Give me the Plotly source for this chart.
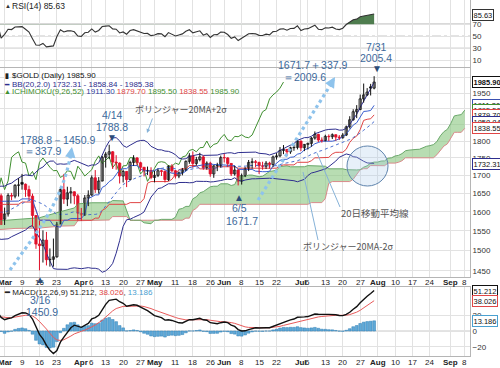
import numpy as np
import pandas as pd
import plotly.graph_objects as go

# ---------------- data (gold, daily OHLC, Jan 2 - Jul 31 2020) ----------------
holidays = ["2020-01-20", "2020-02-17", "2020-04-10", "2020-05-25", "2020-07-03", "2020-09-07"]

opens = [
    1523, 1529, 1553, 1568, 1574, 1560, 1554, 1562, 1549, 1546, 1557, 1553, 1561, 1560, 1558, 1566, 1572, 1582, 1569, 1576, 1589,  # Jan
    1587, 1582, 1557, 1557, 1567, 1573, 1579, 1570, 1571, 1578, 1586, 1604, 1612, 1623, 1649, 1676, 1650, 1643, 1643,  # Feb
    1580, 1594, 1644, 1642, 1672, 1680, 1675, 1660, 1642, 1590, 1516, 1512, 1526, 1477, 1478, 1484, 1567, 1660, 1634, 1651, 1654, 1643,  # Mar
    1596, 1591, 1637, 1645, 1693, 1660, 1684, 1752, 1761, 1768, 1738, 1735, 1698, 1711, 1688, 1737, 1750, 1736, 1723, 1713, 1714,  # Apr
    1694, 1700, 1713, 1711, 1688, 1726, 1713, 1698, 1707, 1716, 1740, 1756, 1734, 1745, 1753, 1722, 1735, 1704, 1727, 1728,  # May
    1751, 1750, 1734, 1704, 1715, 1683, 1699, 1720, 1737, 1739, 1737, 1727, 1726, 1735, 1731, 1753, 1756, 1772, 1775, 1768, 1780, 1781,  # Jun
    1800, 1780, 1790, 1793, 1809, 1820, 1803, 1801, 1814, 1813, 1819, 1812, 1810, 1818, 1843, 1865, 1890, 1897, 1931, 1944, 1970, 1966,  # Jul
]
highs = [
    1532, 1556, 1590, 1578, 1611, 1562, 1563, 1563, 1550, 1558, 1560, 1562, 1566, 1563, 1569, 1577, 1587, 1583, 1580, 1590, 1593,
    1588, 1583, 1565, 1570, 1577, 1582, 1580, 1575, 1580, 1588, 1605, 1615, 1625, 1652, 1691, 1678, 1660, 1665, 1649,
    1611, 1650, 1651, 1675, 1692, 1704, 1677, 1671, 1649, 1591, 1576, 1551, 1547, 1505, 1530, 1573, 1667, 1704, 1668, 1667, 1655, 1648,
    1610, 1645, 1658, 1700, 1715, 1695, 1756, 1767, 1788.8, 1770, 1758, 1737, 1716, 1711, 1742, 1758, 1752, 1739, 1723, 1725, 1723,
    1713, 1719, 1716, 1714, 1729, 1732, 1715, 1711, 1721, 1743, 1764, 1769, 1753, 1765, 1757, 1740, 1739, 1729, 1736, 1757,
    1762, 1752, 1735, 1727, 1718, 1705, 1723, 1744, 1749, 1744, 1739, 1739, 1741, 1739, 1757, 1764, 1782, 1788, 1776, 1783, 1788, 1803,
    1801, 1791, 1795, 1812, 1829, 1822, 1811, 1819, 1820, 1823, 1820, 1818, 1824, 1847, 1876, 1898, 1911, 1945, 1981, 1966, 1980, 2005.4,
]
lows = [
    1519, 1528, 1552, 1561, 1555, 1543, 1546, 1543, 1536, 1542, 1547, 1549, 1550, 1552, 1551, 1562, 1570, 1565, 1566, 1572, 1574,
    1576, 1548, 1548, 1555, 1563, 1570, 1565, 1565, 1568, 1575, 1584, 1600, 1605, 1620, 1643, 1636, 1633, 1637, 1565,
    1565, 1587, 1631, 1636, 1641, 1660, 1640, 1632, 1560, 1504, 1450.9, 1470, 1463, 1460, 1460, 1482, 1567, 1621, 1615, 1622, 1620, 1577,
    1576, 1589, 1615, 1643, 1651, 1649, 1683, 1722, 1747, 1718, 1716, 1677, 1680, 1667, 1686, 1727, 1729, 1712, 1697, 1701, 1689,
    1680, 1695, 1698, 1680, 1684, 1708, 1691, 1692, 1700, 1712, 1733, 1722, 1728, 1740, 1716, 1716, 1696, 1693, 1712, 1722,
    1737, 1724, 1698, 1699, 1671.7, 1674, 1695, 1712, 1719, 1723, 1704, 1716, 1718, 1719, 1724, 1745, 1752, 1761, 1755, 1762, 1771, 1775,
    1770, 1770, 1775, 1783, 1804, 1797, 1795, 1799, 1800, 1806, 1801, 1803, 1807, 1815, 1838, 1862, 1870, 1895, 1919, 1940, 1942, 1962,
]
closes = [
    1529, 1553, 1568, 1574, 1560, 1554, 1562, 1549, 1546, 1557, 1553, 1561, 1560, 1558, 1566, 1572, 1582, 1569, 1576, 1589, 1587,
    1582, 1557, 1557, 1567, 1573, 1579, 1570, 1571, 1578, 1586, 1604, 1612, 1623, 1649, 1676, 1650, 1643, 1643, 1566,
    1594, 1644, 1642, 1672, 1672, 1675, 1660, 1642, 1590, 1516, 1512, 1526, 1477, 1478, 1484, 1567, 1660, 1634, 1651, 1654, 1643, 1596,
    1591, 1637, 1645, 1693, 1660, 1684, 1752, 1761, 1768, 1738, 1735, 1698, 1711, 1688, 1737, 1750, 1736, 1723, 1713, 1714, 1694,
    1700, 1713, 1711, 1688, 1726, 1713, 1698, 1707, 1716, 1740, 1756, 1734, 1745, 1753, 1722, 1735, 1704, 1727, 1728, 1751,
    1750, 1734, 1704, 1715, 1683, 1699, 1720, 1737, 1739, 1737, 1727, 1726, 1735, 1731, 1753, 1756, 1772, 1775, 1768, 1780, 1781, 1800,
    1780, 1790, 1793, 1809, 1820, 1803, 1801, 1814, 1813, 1819, 1812, 1810, 1818, 1843, 1865, 1890, 1897, 1931, 1944, 1953, 1966, 1985.9,
]

# cloud edges before the computed part
early_cloud_idx = [-3, 3, 10, 16, 20, 21, 25, 30, 31, 34, 35, 36]
early_span_a = [1575, 1580, 1584, 1600, 1610, 1621, 1624, 1624, 1630, 1629, 1604, 1578]
early_span_b = [1552, 1556, 1557, 1562, 1563, 1576, 1577, 1578, 1587, 1587, 1587, 1577]

tick_dates = ["2020-03-02", "2020-03-09", "2020-03-16", "2020-03-23", "2020-04-01", "2020-04-06",
              "2020-04-13", "2020-04-20", "2020-04-27", "2020-05-01", "2020-05-11", "2020-05-18",
              "2020-05-26", "2020-06-01", "2020-06-08", "2020-06-15", "2020-06-22", "2020-07-01",
              "2020-07-06", "2020-07-13", "2020-07-20", "2020-07-27", "2020-08-03", "2020-08-10",
              "2020-08-17", "2020-08-24", "2020-09-01", "2020-09-08"]
tick_text = ["<b>Mar</b>", "9", "16", "23", "<b>Apr</b>", "6", "13", "20", "27", "<b>May</b>", "11", "18",
             "26", "<b>Jun</b>", "8", "15", "22", "<b>Jul</b>", "6", "13", "20", "27", "<b>Aug</b>", "10",
             "17", "24", "<b>Sep</b>", "8"]

price_ticks = [1450, 1500, 1550, 1600, 1650, 1700, 1750, 1800, 1850, 1900, 1950, 2000]
rsi_ticks = [10, 30, 50, 70]
macd_ticks = [-20, 0, 20]

legend_last = {"close": 1985.90, "bb_lo": 1732.31, "bb_mid": 1858.84, "bb_up": 1985.38,
               "tenkan": 1911.30, "kijun": 1879.70, "span_a": 1895.50, "span_b": 1838.55,
               "rsi": 85.63, "macd": 51.212, "signal": 38.026, "hist": 13.186}

# ---------------- trading calendar ----------------
cal = [d.strftime("%Y-%m-%d") for d in pd.bdate_range("2020-01-02", "2020-09-30")
       if d.strftime("%Y-%m-%d") not in holidays]
first = cal.index("2020-03-02")
idx_of = {d: i - first for i, d in enumerate(cal)}
n = len(closes)
x = np.arange(n) - first

o = pd.Series(opens, index=x, dtype=float)
h = pd.Series(highs, index=x, dtype=float)
l = pd.Series(lows, index=x, dtype=float)
c = pd.Series(closes, index=x, dtype=float)

# indicators
ma20 = c.rolling(20).mean()
sd20 = c.rolling(20).std(ddof=0)
bb_up = ma20 + 2 * sd20
bb_lo = ma20 - 2 * sd20
tenkan = (h.rolling(9).max() + l.rolling(9).min()) / 2
kijun = (h.rolling(26, min_periods=1).max() + l.rolling(26, min_periods=1).min()) / 2
span_a_c = (tenkan + kijun) / 2
span_b_c = (h.rolling(52).max() + l.rolling(52).min()) / 2
later = [j for j in x if 37 <= j + 26]
cloud_x = list(early_cloud_idx) + [int(j + 26) for j in later]
cloud_a = list(early_span_a) + [float(span_a_c[j]) for j in later]
cloud_b = list(early_span_b) + [float(span_b_c[j]) for j in later]

d = c.diff()
ag = d.clip(lower=0).ewm(alpha=1 / 14, adjust=False).mean()
al = (-d.clip(upper=0)).ewm(alpha=1 / 14, adjust=False).mean()
rsi = 100 - 100 / (1 + ag / al)
macd = c.ewm(span=12, adjust=False).mean() - c.ewm(span=26, adjust=False).mean()
signal = macd.ewm(span=9, adjust=False).mean()
hist = macd - signal

vis = x >= -3
xv = x[vis]

# ---------------- geometry helpers ----------------
W_PLOT, H_PLOT = 470.0, 356.0
FONT = "Liberation Sans, Arial, sans-serif"
JP = "Noto Sans CJK JP, sans-serif"


def px(X):
    return X / W_PLOT


def py(Y):
    return 1 - Y / H_PLOT


XR = [-1.32, 133.5]
P_LO, P_HI = 1435, 2033

fig = go.Figure()

# ---------------- RSI panel ----------------
rv = rsi[vis]
fig.add_trace(go.Scatter(x=xv, y=[70] * len(xv), mode="lines", line=dict(width=0), xaxis="x", yaxis="y", hoverinfo="skip"))
fig.add_trace(go.Scatter(x=xv, y=np.maximum(rv.values, 70), mode="lines", line=dict(width=0), fill="tonexty",
                         fillcolor="#4f7d4f", xaxis="x", yaxis="y", hoverinfo="skip"))
fig.add_trace(go.Scatter(x=xv, y=[30] * len(xv), mode="lines", line=dict(width=0), xaxis="x", yaxis="y", hoverinfo="skip"))
fig.add_trace(go.Scatter(x=xv, y=np.minimum(rv.values, 30), mode="lines", line=dict(width=0), fill="tonexty",
                         fillcolor="#d05050", xaxis="x", yaxis="y", hoverinfo="skip"))
fig.add_trace(go.Scatter(x=xv, y=rv.values, mode="lines", line=dict(color="#333333", width=1.1), xaxis="x", yaxis="y"))

# ---------------- price panel ----------------
fig.add_trace(go.Scatter(x=cloud_x, y=cloud_b, mode="lines", line=dict(color="#d88a8a", width=1),
                         xaxis="x2", yaxis="y2"))
fig.add_trace(go.Scatter(x=cloud_x, y=cloud_a, mode="lines", line=dict(color="#6aa86a", width=1),
                         fill="tonexty", fillcolor="rgba(140,200,130,0.62)", xaxis="x2", yaxis="y2"))
fig.add_trace(go.Scatter(x=xv - 26, y=c[vis].values, mode="lines", line=dict(color="#3f8f2f", width=1), xaxis="x2", yaxis="y2"))
fig.add_trace(go.Scatter(x=xv, y=kijun[vis].values, mode="lines", line=dict(color="#e04545", width=1), xaxis="x2", yaxis="y2"))
fig.add_trace(go.Scatter(x=xv, y=tenkan[vis].values, mode="lines", line=dict(color="#3a5fd0", width=1), xaxis="x2", yaxis="y2"))
fig.add_trace(go.Scatter(x=xv, y=ma20[vis].values, mode="lines", line=dict(color="#4a6fd0", width=1, dash="dot"), xaxis="x2", yaxis="y2"))
fig.add_trace(go.Scatter(x=xv, y=bb_up[vis].values, mode="lines", line=dict(color="#2e2e8e", width=1), xaxis="x2", yaxis="y2"))
fig.add_trace(go.Scatter(x=xv, y=bb_lo[vis].values, mode="lines", line=dict(color="#2e2e8e", width=1), xaxis="x2", yaxis="y2"))

prev = c.shift(1).fillna(o)
groups = {}
for j in xv:
    col = "#111111" if c[j] >= prev[j] else "#e0102a"
    hollow = c[j] >= o[j]
    groups.setdefault((col, hollow), []).append(j)
for col in ["#111111", "#e0102a"]:
    wx, wy = [], []
    for (cc, hol), js in groups.items():
        if cc != col:
            continue
        for j in js:
            wx += [j, j, None]
            wy += [l[j], h[j], None]
    fig.add_trace(go.Scatter(x=wx, y=wy, mode="lines", line=dict(color=col, width=1), xaxis="x2", yaxis="y2", hoverinfo="skip"))
for (col, hol), js in groups.items():
    base = [min(o[j], c[j]) for j in js]
    top = [max(o[j], c[j]) for j in js]
    hgt = [max(t - b, 1.0) for b, t in zip(base, top)]
    fig.add_trace(go.Bar(x=js, y=hgt, base=base, width=0.66,
                         marker=dict(color="white" if hol else col, line=dict(color=col, width=0.8)),
                         xaxis="x2", yaxis="y2", hoverinfo="skip"))

# ---------------- MACD panel ----------------
fig.add_trace(go.Bar(x=xv, y=hist[vis].values, width=0.8, marker=dict(color="#5fa9d8", line=dict(color="#2f7fb5", width=0.5)),
                     xaxis="x3", yaxis="y3"))
fig.add_trace(go.Scatter(x=xv, y=signal[vis].values, mode="lines", line=dict(color="#e85a5a", width=1), xaxis="x3", yaxis="y3"))
fig.add_trace(go.Scatter(x=xv, y=macd[vis].values, mode="lines", line=dict(color="#111111", width=1.4), xaxis="x3", yaxis="y3"))

# ---------------- axes ----------------
tickvals = [idx_of[dd] for dd in tick_dates]
xcommon = dict(range=XR, tickvals=tickvals, ticktext=tick_text, showgrid=True, gridcolor="#e2e2e2",
               zeroline=False, showline=True, linecolor="#b5b5b5", mirror=True, ticks="", tickangle=0,
               showticklabels=False)
ycommon = dict(side="right", showline=True, linecolor="#b5b5b5", mirror=True, ticks="", zeroline=False,
               gridcolor="#e2e2e2", tickfont=dict(size=8, color="#333", family=FONT))

fig.update_layout(
    width=500, height=368, margin=dict(l=0, r=30, t=0, b=12),
    paper_bgcolor="white", plot_bgcolor="white", showlegend=False, barmode="overlay",
    xaxis=dict(**xcommon, anchor="y"),
    xaxis2=dict(**xcommon, anchor="y2"),
    xaxis3=dict(**xcommon, anchor="y3"),
    yaxis=dict(**ycommon, domain=[py(67), 1], range=[-1, 110], tickvals=rsi_ticks),
    yaxis2=dict(**ycommon, domain=[py(277), py(68)], type="log", range=[np.log10(P_LO), np.log10(P_HI)],
                tickvals=price_ticks, ticktext=[str(t) for t in price_ticks]),
    yaxis3=dict(**ycommon, domain=[0, py(287)], range=[-31.6, 55.7], tickvals=macd_ticks),
)

shapes = []
for lv, dash in [(70, "solid"), (30, "solid"), (50, "dashdot")]:
    shapes.append(dict(type="line", xref="x domain", yref="y", x0=0, x1=1, y0=lv, y1=lv,
                       line=dict(color="#9a9a9a", width=1, dash=dash), layer="below"))
shapes.append(dict(type="line", xref="x3 domain", yref="y3", x0=0, x1=1, y0=0, y1=0,
                   line=dict(color="#c8c8c8", width=1), layer="below"))
shapes.append(dict(type="line", xref="x2", yref="y2", x0=30, x1=72, y0=np.log10(1783), y1=np.log10(1759),
                   line=dict(color="#ee8a8a", width=1.2, dash="dash")))
shapes.append(dict(type="line", xref="x2", yref="y2", x0=25, x1=91, y0=np.log10(1671.7), y1=np.log10(1671.7),
                   line=dict(color="#6a8fc8", width=1.2, dash="dash")))
dot = dict(color="#8ec3ec", width=3.2, dash="dot")
shapes.append(dict(type="path", xref="paper", yref="paper", line=dot,
                   path=f"M {px(10)},{py(270)} C {px(32)},{py(238)} {px(62)},{py(205)} {px(71)},{py(153)}"))
shapes.append(dict(type="line", xref="paper", yref="paper", x0=px(258), y0=py(200), x1=px(333), y1=py(81), line=dot))
shapes.append(dict(type="line", xref="paper", yref="paper", x0=px(317), y0=py(153), x1=px(340), y1=py(207),
                   line=dict(color="#86b2d8", width=1)))
shapes.append(dict(type="line", xref="paper", yref="paper", x0=px(303), y0=py(172), x1=px(318), y1=py(240),
                   line=dict(color="#86b2d8", width=1)))
shapes.append(dict(type="circle", xref="paper", yref="paper", x0=px(347), x1=px(388), y0=py(186), y1=py(146),
                   fillcolor="rgba(170,200,235,0.28)", line=dict(color="#5f84ad", width=1)))
fig.update_layout(shapes=shapes)


def T(X, Y, text, size=9, color="#333", xa="center", fam=FONT):
    return dict(x=px(X), y=py(Y), xref="paper", yref="paper", text=text, showarrow=False,
                xanchor=xa, yanchor="middle", font=dict(size=size, color=color, family=fam))


def BOX(yref, yval, text, col, bold=False):
    return dict(x=px(472), y=yval, xref="paper", yref=yref, text=(f"<b>{text}</b>" if bold else text), showarrow=False,
                xanchor="left", yanchor="middle", font=dict(size=7.5, color="#111", family=FONT),
                bordercolor=col, borderwidth=1, borderpad=0.5, bgcolor="white")


BLUE_T = "#3d6a9c"
TRI = "#2c4c78"
anns = []
for xref, ypix in [("x2", 282), ("x3", 362)]:
    for tv, tt in zip(tickvals, tick_text):
        anns.append(dict(x=tv, y=py(ypix), xref=xref, yref="paper", text=tt, showarrow=False,
                         xanchor="center", yanchor="middle", font=dict(size=8, color="#222", family=FONT)))
anns += [
    T(3, 6, "<b>▲</b>", 6, "#333", "left"),
    T(10, 6, "RSI(14) 85.63", 8.5, "#222", "left"),
    T(3, 76, "<b>▮</b>", 7, "#222", "left"),
    T(10, 76, "$GOLD (Daily) 1985.90", 8, "#111", "left"),
    T(2, 84, "<b>━</b>", 7, "#2e2e8e", "left"),
    T(10, 84, "BB(20,2.0) 1732.31 - 1858.84 - 1985.38", 8, "#2e2e8e", "left"),
    T(2, 92, "▲", 7, "#3f8f2f", "left"),
    T(10, 92, "<span style='color:#3f8f2f'>ICHIMOKU(9,26,52)</span> <span style='color:#2e3e9e'>1911.30</span> "
               "<span style='color:#e04545'>1879.70</span> <span style='color:#3f8f2f'>1895.50</span> "
               "<span style='color:#e04545'>1838.55</span> <span style='color:#3f8f2f'>1985.90</span>", 8, "#333", "left"),
    T(2, 292, "<b>━</b> MACD(12,26,9) 51.212, <span style='color:#e04545'>38.026</span>, "
              "<span style='color:#4aa0d0'>13.186</span>", 8, "#222", "left"),
    T(181, 109, "ボリンジャー20MA+2σ", 9, "#555", fam=JP),
    T(375, 213, "20日移動平均線", 9.5, "#555", fam=JP),
    T(348, 246, "ボリンジャー20MA-2σ", 9, "#555", fam=JP),
    T(112, 115, "4/14", 10.5, BLUE_T),
    T(112, 127, "1788.8", 10.5, BLUE_T),
    T(112, 138, "▼", 10, TRI),
    T(57, 140, "1788.8－1450.9", 10.5, BLUE_T),
    T(42, 151, "＝337.9", 10.5, BLUE_T),
    T(313, 65, "1671.7＋337.9", 10.5, BLUE_T),
    T(304, 77, "＝2009.6", 10.5, BLUE_T),
    T(376, 47, "7/31", 10.5, BLUE_T),
    T(376, 58, "2005.4", 10.5, BLUE_T),
    T(377, 68, "▼", 10, TRI),
    T(239, 197, "▲", 10, TRI),
    T(240, 208, "6/5", 10.5, BLUE_T),
    T(242, 221, "1671.7", 10.5, BLUE_T),
    T(40, 279, "▲", 10, TRI),
    T(40, 300, "3/16", 10.5, BLUE_T),
    T(42, 312, "1450.9", 10.5, BLUE_T),
    dict(x=px(147), y=py(133), xref="paper", yref="paper", text="", showarrow=True, arrowhead=2,
         arrowsize=0.8, arrowwidth=1, arrowcolor="#86b2d8", ax=6, ay=-16),
    dict(x=px(335), y=py(77), xref="paper", yref="paper", text="", showarrow=True, arrowhead=2,
         arrowsize=0.7, arrowwidth=3, arrowcolor="#8ec3ec", ax=-6, ay=10),
    dict(x=px(72), y=py(147), xref="paper", yref="paper", text="", showarrow=True, arrowhead=2,
         arrowsize=0.7, arrowwidth=3, arrowcolor="#8ec3ec", ax=-2, ay=12),
    BOX("y", legend_last["rsi"], "85.63", "#333"),
    BOX("y2", np.log10(legend_last["close"]), "1985.90", "#111", True),
    BOX("y2", np.log10(legend_last["tenkan"]), "1911.30", "#3a4fb0"),
    BOX("y2", np.log10(legend_last["span_a"]), "1895.50", "#3f8f2f"),
    BOX("y2", np.log10(legend_last["kijun"]), "1879.70", "#e04545"),
    BOX("y2", np.log10(legend_last["bb_mid"]), "1858.84", "#2e2e8e"),
    BOX("y2", np.log10(legend_last["span_b"]), "1838.55", "#e04545"),
    BOX("y2", np.log10(legend_last["bb_lo"]), "1732.31", "#2e2e8e"),
    BOX("y3", legend_last["macd"], "51.212", "#111"),
    BOX("y3", legend_last["signal"], "38.026", "#e04545"),
    BOX("y3", legend_last["hist"], "13.186", "#4aa0d0"),
]
fig.update_layout(annotations=anns)

fig.write_html("out.html", config={"displayModeBar": False},
               post_script="document.body.style.margin='0';document.body.style.padding='0';"
                           "document.documentElement.style.overflow='hidden';")
